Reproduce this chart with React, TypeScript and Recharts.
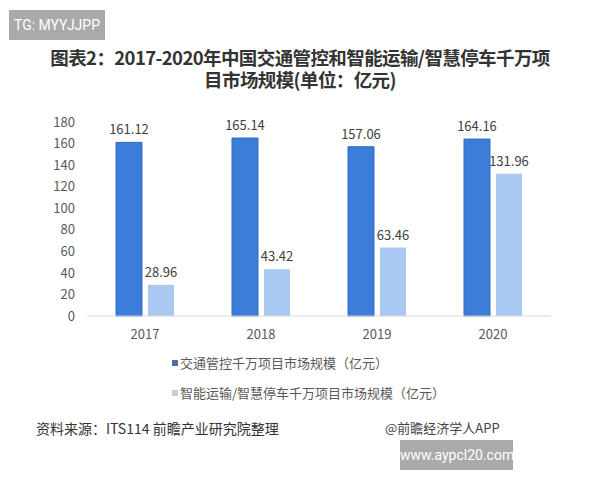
import React from 'react';
import { BarChart, Bar, XAxis, YAxis, LabelList } from 'recharts';

const years = ['2017', '2018', '2019', '2020'];
const trafficControl = [161.12, 165.14, 157.06, 164.16];
const smartTransport = [28.96, 43.42, 63.46, 131.96];
const yTicks = [0, 20, 40, 60, 80, 100, 120, 140, 160, 180];
const seriesNames = ['交通管控千万项目市场规模（亿元）', '智能运输/智慧停车千万项目市场规模（亿元）'];

const data = years.map((year, i) => ({
  year,
  traffic: trafficControl[i],
  smart: smartTransport[i],
}));

const FONT = '"Noto Sans CJK SC", "Noto Sans", sans-serif';
const legendMarks = ['#4f6fa8', '#c9cdd3'];

const App: React.FC = () => {
  return (
    <div style={{ position: 'relative', width: 600, height: 480, background: '#fff', fontFamily: FONT, overflow: 'hidden' }}>
      <style>{`body{margin:0}`}</style>
      <div style={{ position: 'absolute', left: 9, top: 10, width: 96, height: 30, background: '#aaaaaa', color: '#fff', fontSize: 14, lineHeight: '30px', textAlign: 'center', fontFamily: 'Roboto, sans-serif' }}>
        TG: MYYJJPP
      </div>
      <div style={{ position: 'absolute', left: 0, top: 46, width: 600, textAlign: 'center', fontSize: 18.5, fontWeight: 'bold', color: '#333', lineHeight: '22px', letterSpacing: -0.6 }}>
        <div>图表2：2017-2020年中国交通管控和智能运输/智慧停车千万项</div>
        <div>目市场规模(单位：亿元)</div>
      </div>
      <div style={{ position: 'absolute', left: 0, top: 0 }}>
        <BarChart width={600} height={480} data={data} margin={{ top: 122, right: 49, bottom: 134, left: 47 }} barGap={6} barCategoryGap="25%">
          <XAxis
            dataKey="year"
            stroke="#d9d9d9"
            tickLine={false}
            tick={{ fill: '#595959', fontSize: 13 }}
            tickMargin={8}
            height={30}
          />
          <YAxis
            domain={[0, 180]}
            ticks={yTicks}
            interval={0}
            axisLine={false}
            tickLine={false}
            tickSize={0}
            tickMargin={12}
            width={40}
            tick={{ fill: '#595959', fontSize: 13 }}
          />
          <Bar dataKey="traffic" name={seriesNames[0]} fill="#3b7dd8" stroke="#2f6cc0" strokeWidth={1} isAnimationActive={false}>
            <LabelList dataKey="traffic" position="top" offset={8} fill="#404040" fontSize={13} />
          </Bar>
          <Bar dataKey="smart" name={seriesNames[1]} fill="#a9c9f2" isAnimationActive={false}>
            <LabelList dataKey="smart" position="top" offset={8} fill="#404040" fontSize={13} />
          </Bar>
        </BarChart>
      </div>
      <div style={{ position: 'absolute', left: 172, top: 348, fontSize: 13, color: '#595959', lineHeight: '30px' }}>
        {seriesNames.map((name, index) => (
          <div key={`legend-${index}`} style={{ display: 'flex', alignItems: 'center' }}>
            <span style={{ width: 6, height: 6, background: legendMarks[index], marginRight: 2, display: 'inline-block' }} />
            <span>{name}</span>
          </div>
        ))}
      </div>
      <div style={{ position: 'absolute', left: 36, top: 418, fontSize: 14, color: '#333' }}>
        资料来源：ITS114 前瞻产业研究院整理
      </div>
      <div style={{ position: 'absolute', left: 385, top: 418, fontSize: 13, color: '#444' }}>
        @前瞻经济学人APP
      </div>
      <div style={{ position: 'absolute', left: 400, top: 440, width: 113, height: 30, background: '#aaaaaa', color: '#fff', fontSize: 14, lineHeight: '30px', textAlign: 'center', fontFamily: 'Roboto, sans-serif' }}>
        www.aypcl20.com
      </div>
    </div>
  );
};

export default App;
